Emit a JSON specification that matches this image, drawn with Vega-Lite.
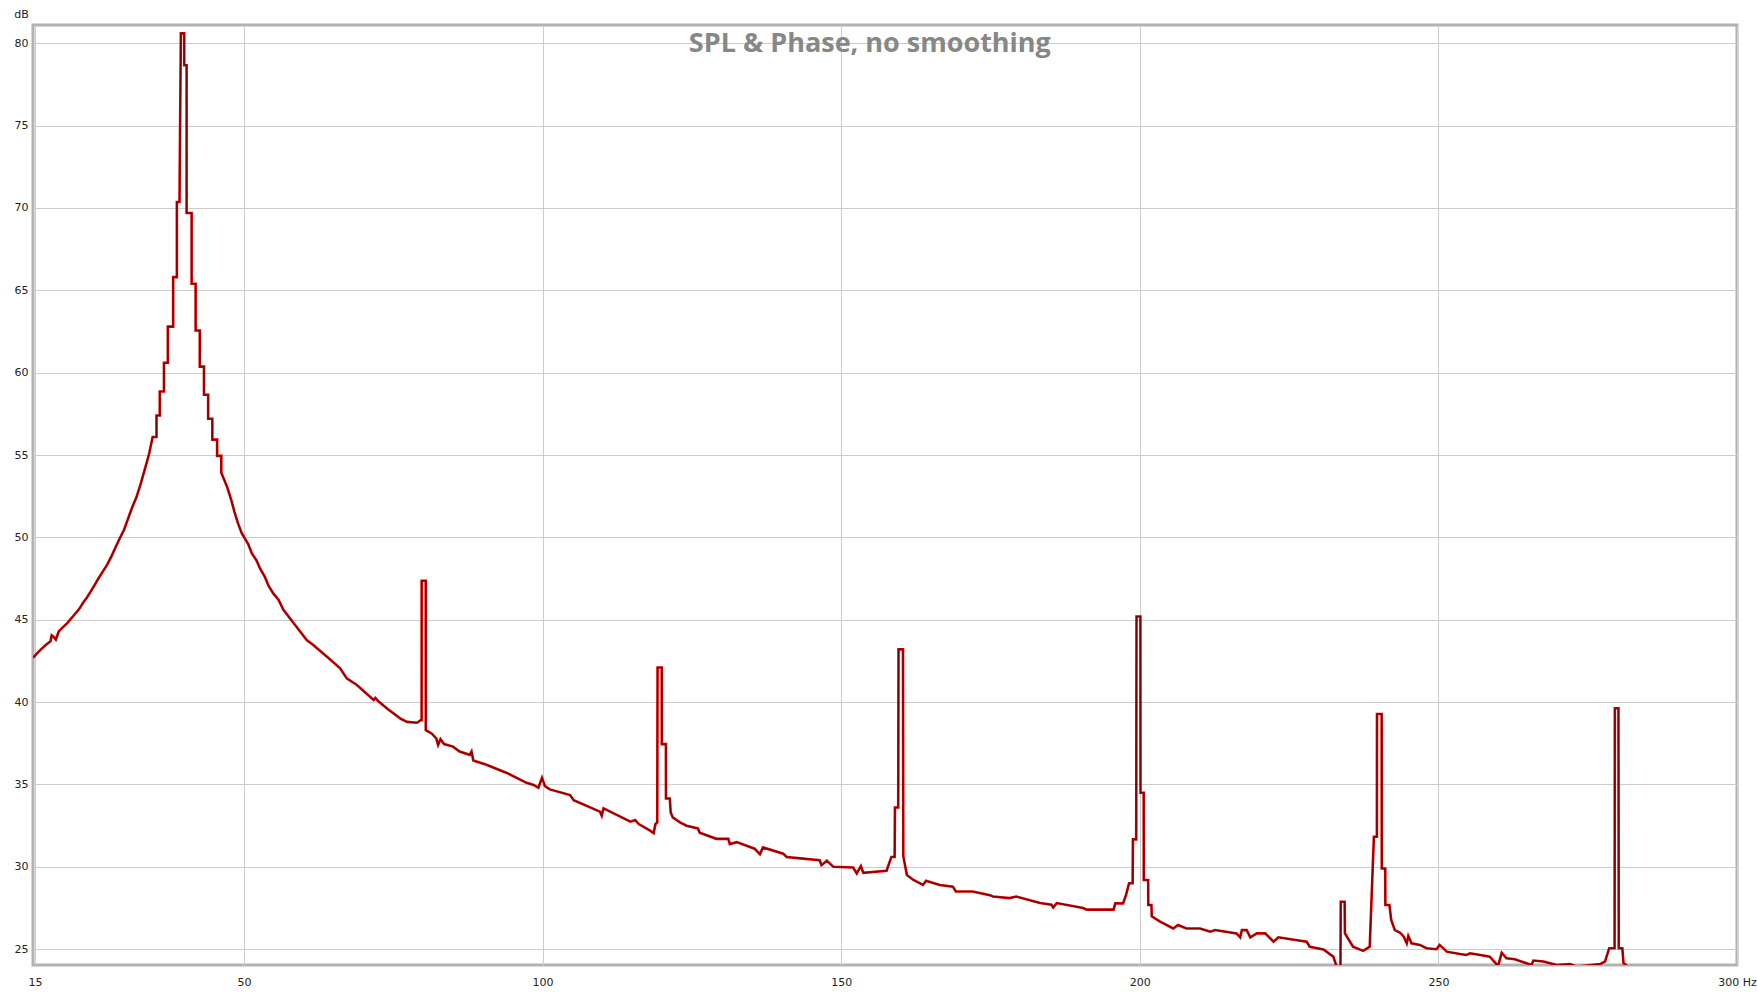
{
  "$schema": "https://vega.github.io/schema/vega-lite/v6.json",
  "width": 1704,
  "height": 940,
  "autosize": {"type": "none"},
  "padding": {"left": 33, "top": 25, "right": 20, "bottom": 27},
  "background": "white",
  "config": {
    "view": {"stroke": "#b2b2b2", "strokeWidth": 3},
    "axis": {
      "grid": true,
      "gridColor": "#cccccc",
      "gridWidth": 1,
      "domain": false,
      "ticks": false,
      "labelFont": "DejaVu Sans",
      "labelFontSize": 11,
      "labelColor": "#222222",
      "labelOverlap": false,
      "labelFlush": false
    }
  },
  "datasets": {
    "spl": [
      {"f": 14.7, "db": 42.7}, {"f": 15.3, "db": 42.95}, {"f": 16.0, "db": 43.2}, {"f": 16.9, "db": 43.5},
      {"f": 17.6, "db": 43.7}, {"f": 17.8, "db": 44.05}, {"f": 18.3, "db": 43.9}, {"f": 18.5, "db": 43.8},
      {"f": 19.0, "db": 44.3}, {"f": 19.7, "db": 44.55}, {"f": 20.4, "db": 44.8}, {"f": 21.0, "db": 45.05},
      {"f": 21.7, "db": 45.35}, {"f": 22.4, "db": 45.65}, {"f": 23.0, "db": 46.0}, {"f": 23.7, "db": 46.35},
      {"f": 24.4, "db": 46.75}, {"f": 25.05, "db": 47.15}, {"f": 25.7, "db": 47.55}, {"f": 26.4, "db": 47.95},
      {"f": 27.1, "db": 48.35}, {"f": 27.8, "db": 48.85}, {"f": 28.5, "db": 49.4}, {"f": 29.2, "db": 49.95},
      {"f": 29.9, "db": 50.45}, {"f": 30.5, "db": 51.05}, {"f": 31.2, "db": 51.75}, {"f": 32.0, "db": 52.45},
      {"f": 32.7, "db": 53.25}, {"f": 33.4, "db": 54.15}, {"f": 34.1, "db": 55.05}, {"f": 34.7, "db": 56.1},
      {"f": 35.35, "db": 56.1}, {"f": 35.35, "db": 57.4}, {"f": 35.9, "db": 57.4}, {"f": 35.9, "db": 58.86},
      {"f": 36.6, "db": 58.86}, {"f": 36.6, "db": 60.6}, {"f": 37.25, "db": 60.6}, {"f": 37.25, "db": 62.8},
      {"f": 38.14, "db": 62.8}, {"f": 38.14, "db": 65.8}, {"f": 38.76, "db": 65.8}, {"f": 38.76, "db": 70.36},
      {"f": 39.2, "db": 70.36}, {"f": 39.43, "db": 80.6}, {"f": 39.99, "db": 80.6}, {"f": 39.99, "db": 78.67},
      {"f": 40.39, "db": 78.67}, {"f": 40.39, "db": 69.7}, {"f": 41.23, "db": 69.7}, {"f": 41.23, "db": 65.4},
      {"f": 41.9, "db": 65.4}, {"f": 41.9, "db": 62.56}, {"f": 42.6, "db": 62.56}, {"f": 42.6, "db": 60.37},
      {"f": 43.3, "db": 60.37}, {"f": 43.3, "db": 58.66}, {"f": 44.0, "db": 58.66}, {"f": 44.0, "db": 57.2},
      {"f": 44.7, "db": 57.2}, {"f": 44.7, "db": 55.94}, {"f": 45.5, "db": 55.94}, {"f": 45.5, "db": 54.95},
      {"f": 46.2, "db": 54.95}, {"f": 46.2, "db": 53.92}, {"f": 47.2, "db": 53.04}, {"f": 47.9, "db": 52.23},
      {"f": 48.4, "db": 51.55}, {"f": 49.0, "db": 50.85}, {"f": 49.6, "db": 50.27}, {"f": 50.7, "db": 49.6},
      {"f": 51.3, "db": 49.04}, {"f": 52.1, "db": 48.6}, {"f": 52.7, "db": 48.1}, {"f": 53.5, "db": 47.6},
      {"f": 54.1, "db": 47.07}, {"f": 54.9, "db": 46.6}, {"f": 55.8, "db": 46.2}, {"f": 56.6, "db": 45.6},
      {"f": 58.3, "db": 44.8}, {"f": 60.5, "db": 43.77}, {"f": 61.6, "db": 43.47}, {"f": 63.9, "db": 42.76},
      {"f": 66.1, "db": 42.05}, {"f": 67.2, "db": 41.44}, {"f": 68.9, "db": 41.04}, {"f": 71.7, "db": 40.13},
      {"f": 72.0, "db": 40.25}, {"f": 72.5, "db": 40.05}, {"f": 74.0, "db": 39.6}, {"f": 76.2, "db": 39.0},
      {"f": 77.3, "db": 38.8}, {"f": 79.0, "db": 38.75}, {"f": 79.55, "db": 38.9}, {"f": 79.74, "db": 38.9},
      {"f": 79.75, "db": 47.37}, {"f": 80.43, "db": 47.37}, {"f": 80.44, "db": 38.3}, {"f": 81.4, "db": 38.1},
      {"f": 82.2, "db": 37.8}, {"f": 82.5, "db": 37.4}, {"f": 82.9, "db": 37.75}, {"f": 83.5, "db": 37.45},
      {"f": 85.0, "db": 37.3}, {"f": 86.1, "db": 37.0}, {"f": 87.8, "db": 36.8}, {"f": 88.1, "db": 37.0},
      {"f": 88.4, "db": 36.45}, {"f": 90.6, "db": 36.2}, {"f": 94.0, "db": 35.7}, {"f": 97.3, "db": 35.1},
      {"f": 98.5, "db": 34.97}, {"f": 99.3, "db": 34.8}, {"f": 99.9, "db": 35.4}, {"f": 100.4, "db": 34.9},
      {"f": 101.2, "db": 34.7}, {"f": 104.6, "db": 34.36}, {"f": 105.2, "db": 34.05}, {"f": 109.6, "db": 33.35},
      {"f": 109.9, "db": 33.1}, {"f": 110.2, "db": 33.55}, {"f": 111.9, "db": 33.25}, {"f": 114.7, "db": 32.74},
      {"f": 115.5, "db": 32.84}, {"f": 116.1, "db": 32.6}, {"f": 118.0, "db": 32.2}, {"f": 118.6, "db": 32.05},
      {"f": 118.9, "db": 32.6}, {"f": 119.2, "db": 32.7}, {"f": 119.25, "db": 42.1}, {"f": 119.95, "db": 42.1},
      {"f": 119.96, "db": 37.45}, {"f": 120.65, "db": 37.45}, {"f": 120.66, "db": 34.15}, {"f": 121.3, "db": 34.15},
      {"f": 121.45, "db": 33.3}, {"f": 121.8, "db": 33.0}, {"f": 123.0, "db": 32.7}, {"f": 124.1, "db": 32.5},
      {"f": 126.0, "db": 32.33}, {"f": 126.3, "db": 32.07}, {"f": 129.1, "db": 31.7}, {"f": 131.1, "db": 31.7},
      {"f": 131.35, "db": 31.38}, {"f": 132.5, "db": 31.5}, {"f": 135.5, "db": 31.1}, {"f": 136.4, "db": 30.77},
      {"f": 136.9, "db": 31.18}, {"f": 140.3, "db": 30.8}, {"f": 140.85, "db": 30.6}, {"f": 143.6, "db": 30.5},
      {"f": 146.4, "db": 30.4}, {"f": 146.7, "db": 30.1}, {"f": 147.6, "db": 30.37}, {"f": 148.7, "db": 30.0},
      {"f": 152.0, "db": 29.96}, {"f": 152.6, "db": 29.6}, {"f": 153.3, "db": 30.05}, {"f": 153.7, "db": 29.64},
      {"f": 157.6, "db": 29.76}, {"f": 158.4, "db": 30.6}, {"f": 158.95, "db": 30.6}, {"f": 159.0, "db": 33.6},
      {"f": 159.55, "db": 33.6}, {"f": 159.6, "db": 43.2}, {"f": 160.35, "db": 43.2}, {"f": 160.4, "db": 30.65},
      {"f": 161.0, "db": 29.5}, {"f": 162.1, "db": 29.2}, {"f": 163.7, "db": 28.9}, {"f": 164.2, "db": 29.15},
      {"f": 166.5, "db": 28.9}, {"f": 168.7, "db": 28.8}, {"f": 169.2, "db": 28.5}, {"f": 172.0, "db": 28.5},
      {"f": 174.9, "db": 28.28}, {"f": 175.4, "db": 28.2}, {"f": 178.2, "db": 28.1}, {"f": 179.3, "db": 28.2},
      {"f": 183.3, "db": 27.8}, {"f": 185.2, "db": 27.7}, {"f": 185.5, "db": 27.53}, {"f": 186.1, "db": 27.8},
      {"f": 190.5, "db": 27.5}, {"f": 191.1, "db": 27.4}, {"f": 195.6, "db": 27.4}, {"f": 195.9, "db": 27.78},
      {"f": 197.2, "db": 27.78}, {"f": 197.7, "db": 28.3}, {"f": 198.2, "db": 29.0}, {"f": 198.8, "db": 29.0},
      {"f": 198.85, "db": 31.67}, {"f": 199.4, "db": 31.67}, {"f": 199.45, "db": 45.2}, {"f": 200.1, "db": 45.2},
      {"f": 200.12, "db": 34.5}, {"f": 200.65, "db": 34.5}, {"f": 200.67, "db": 29.2}, {"f": 201.4, "db": 29.2},
      {"f": 201.42, "db": 27.68}, {"f": 201.95, "db": 27.68}, {"f": 202.0, "db": 27.0}, {"f": 203.4, "db": 26.67},
      {"f": 205.6, "db": 26.26}, {"f": 206.4, "db": 26.47}, {"f": 207.8, "db": 26.26}, {"f": 210.1, "db": 26.26},
      {"f": 211.8, "db": 26.06}, {"f": 212.6, "db": 26.16}, {"f": 216.2, "db": 25.96}, {"f": 216.8, "db": 25.72},
      {"f": 217.1, "db": 26.16}, {"f": 217.9, "db": 26.16}, {"f": 218.5, "db": 25.72}, {"f": 219.6, "db": 25.96},
      {"f": 221.0, "db": 25.96}, {"f": 222.4, "db": 25.45}, {"f": 223.2, "db": 25.72}, {"f": 227.95, "db": 25.45},
      {"f": 228.45, "db": 25.15}, {"f": 230.75, "db": 24.99}, {"f": 232.4, "db": 24.55}, {"f": 233.0, "db": 23.9},
      {"f": 233.6, "db": 23.9}, {"f": 233.65, "db": 27.88}, {"f": 234.3, "db": 27.88}, {"f": 234.35, "db": 25.96},
      {"f": 235.7, "db": 25.15}, {"f": 237.4, "db": 24.9}, {"f": 238.5, "db": 25.15}, {"f": 239.2, "db": 31.83},
      {"f": 239.7, "db": 31.83}, {"f": 239.72, "db": 39.28}, {"f": 240.5, "db": 39.28}, {"f": 240.52, "db": 29.9},
      {"f": 241.1, "db": 29.9}, {"f": 241.12, "db": 27.68}, {"f": 241.8, "db": 27.68}, {"f": 242.1, "db": 26.77},
      {"f": 242.7, "db": 26.16}, {"f": 243.6, "db": 26.0}, {"f": 244.2, "db": 25.76}, {"f": 244.7, "db": 25.36},
      {"f": 244.96, "db": 25.8}, {"f": 245.5, "db": 25.36}, {"f": 246.9, "db": 25.26}, {"f": 248.0, "db": 25.06},
      {"f": 249.7, "db": 25.0}, {"f": 250.2, "db": 25.26}, {"f": 251.4, "db": 24.85}, {"f": 253.6, "db": 24.71},
      {"f": 254.7, "db": 24.65}, {"f": 255.3, "db": 24.75}, {"f": 257.0, "db": 24.65}, {"f": 258.6, "db": 24.55},
      {"f": 260.0, "db": 23.98}, {"f": 260.6, "db": 24.79}, {"f": 261.4, "db": 24.45}, {"f": 262.8, "db": 24.39},
      {"f": 265.6, "db": 24.04}, {"f": 265.9, "db": 24.31}, {"f": 267.6, "db": 24.25}, {"f": 269.8, "db": 24.04},
      {"f": 272.0, "db": 24.1}, {"f": 273.2, "db": 23.94}, {"f": 277.1, "db": 24.1}, {"f": 277.9, "db": 24.25},
      {"f": 278.6, "db": 25.06}, {"f": 279.5, "db": 25.06}, {"f": 279.55, "db": 39.63}, {"f": 280.15, "db": 39.63},
      {"f": 280.2, "db": 25.06}, {"f": 280.8, "db": 25.06}, {"f": 281.0, "db": 24.15}, {"f": 281.8, "db": 23.94},
      {"f": 282.5, "db": 23.6}, {"f": 300.0, "db": 23.5}
    ],
    "heading": [{"label": "SPL & Phase, no smoothing", "f": 154.8, "db": 79.47}]
  },
  "layer": [
    {
      "data": {"name": "spl"},
      "mark": {"type": "line", "color": "#cc0000", "strokeWidth": 2.6, "clip": true, "strokeJoin": "miter"},
      "encoding": {
        "x": {
          "field": "f",
          "type": "quantitative",
          "scale": {"domain": [14.67, 300], "nice": false, "zero": false},
          "axis": {
            "values": [15, 50, 100, 150, 200, 250, 300],
            "labelExpr": "datum.value == 300 ? '300 Hz' : datum.label",
            "labelPadding": 11,
            "title": null
          }
        },
        "y": {
          "field": "db",
          "type": "quantitative",
          "scale": {"domain": [24.04, 81.11], "nice": false, "zero": false},
          "axis": {
            "values": [25, 30, 35, 40, 45, 50, 55, 60, 65, 70, 75, 80],
            "labelPadding": 5,
            "title": "dB",
            "titleAngle": 0,
            "titleX": -12,
            "titleY": -11,
            "titleAlign": "center",
            "titleBaseline": "middle",
            "titleFont": "DejaVu Sans",
            "titleFontSize": 11,
            "titleFontWeight": "normal",
            "titleColor": "#222222"
          }
        }
      }
    },
    {
      "data": {"name": "spl"},
      "mark": {"type": "line", "color": "#780000", "strokeWidth": 1, "clip": true, "strokeJoin": "miter"},
      "encoding": {
        "x": {"field": "f", "type": "quantitative"},
        "y": {"field": "db", "type": "quantitative"}
      }
    },
    {
      "data": {"name": "heading"},
      "mark": {
        "type": "text",
        "font": "Open Sans",
        "fontSize": 27,
        "fontWeight": "bold",
        "fill": "#878787",
        "align": "center",
        "baseline": "alphabetic"
      },
      "encoding": {
        "x": {"field": "f", "type": "quantitative"},
        "y": {"field": "db", "type": "quantitative"},
        "text": {"field": "label", "type": "nominal"}
      }
    }
  ]
}
